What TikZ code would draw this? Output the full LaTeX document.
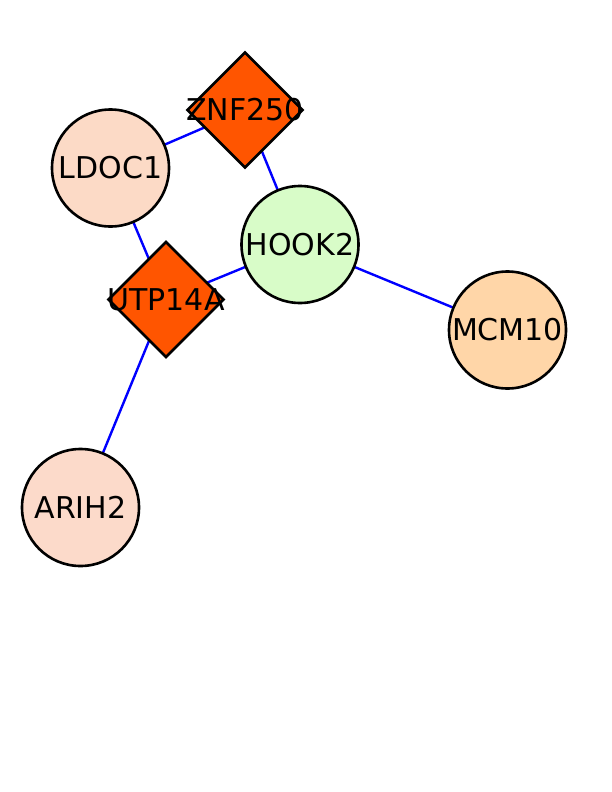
\documentclass[tikz,border=0pt]{standalone}
\usepackage{fontspec}
\setmainfont{DejaVu Sans}
\usetikzlibrary{shapes.geometric,backgrounds}
\definecolor{diacol}{HTML}{FF5500}
\definecolor{ldoccol}{HTML}{FCDAC6}
\definecolor{arihcol}{HTML}{FCDACA}
\definecolor{mcmcol}{HTML}{FFD6A8}
\definecolor{hookcol}{HTML}{D8FCC8}
\tikzset{
  gnode/.style={circle,draw=black,line width=2.6pt,minimum size=117pt,inner sep=0pt},
  dnode/.style={diamond,draw=black,line width=2.6pt,fill=diacol,minimum size=116pt,inner sep=0pt,aspect=1},
  lab/.style={font=\fontsize{30}{30}\selectfont,text=black},
  edge/.style={draw=blue,line width=2.4pt}
}
\begin{document}
\begin{tikzpicture}[x=1pt,y=-1pt]
\useasboundingbox (0,0) rectangle (612,792);
\node[dnode,label={[lab]center:ZNF250}] (znf) at (245,110) {};
\node[gnode,fill=ldoccol,label={[lab]center:LDOC1}] (ldoc) at (110.5,168) {};
\node[gnode,fill=hookcol,label={[lab]center:HOOK2}] (hook) at (300,244.5) {};
\node[dnode,label={[lab]center:UTP14A}] (utp) at (166,299.5) {};
\node[gnode,fill=mcmcol,label={[lab]center:MCM10}] (mcm) at (507.5,330) {};
\node[gnode,fill=arihcol,label={[lab]center:ARIH2}] (arih) at (80.5,507.5) {};
\begin{scope}[on background layer]
\fill[white] (0,0) rectangle (612,792);
\draw[edge] (znf.center) -- (ldoc.center);
\draw[edge] (znf.center) -- (hook.center);
\draw[edge] (ldoc.center) -- (utp.center);
\draw[edge] (utp.center) -- (hook.center);
\draw[edge] (hook.center) -- (mcm.center);
\draw[edge] (utp.center) -- (arih.center);
\end{scope}
\end{tikzpicture}
\end{document}
